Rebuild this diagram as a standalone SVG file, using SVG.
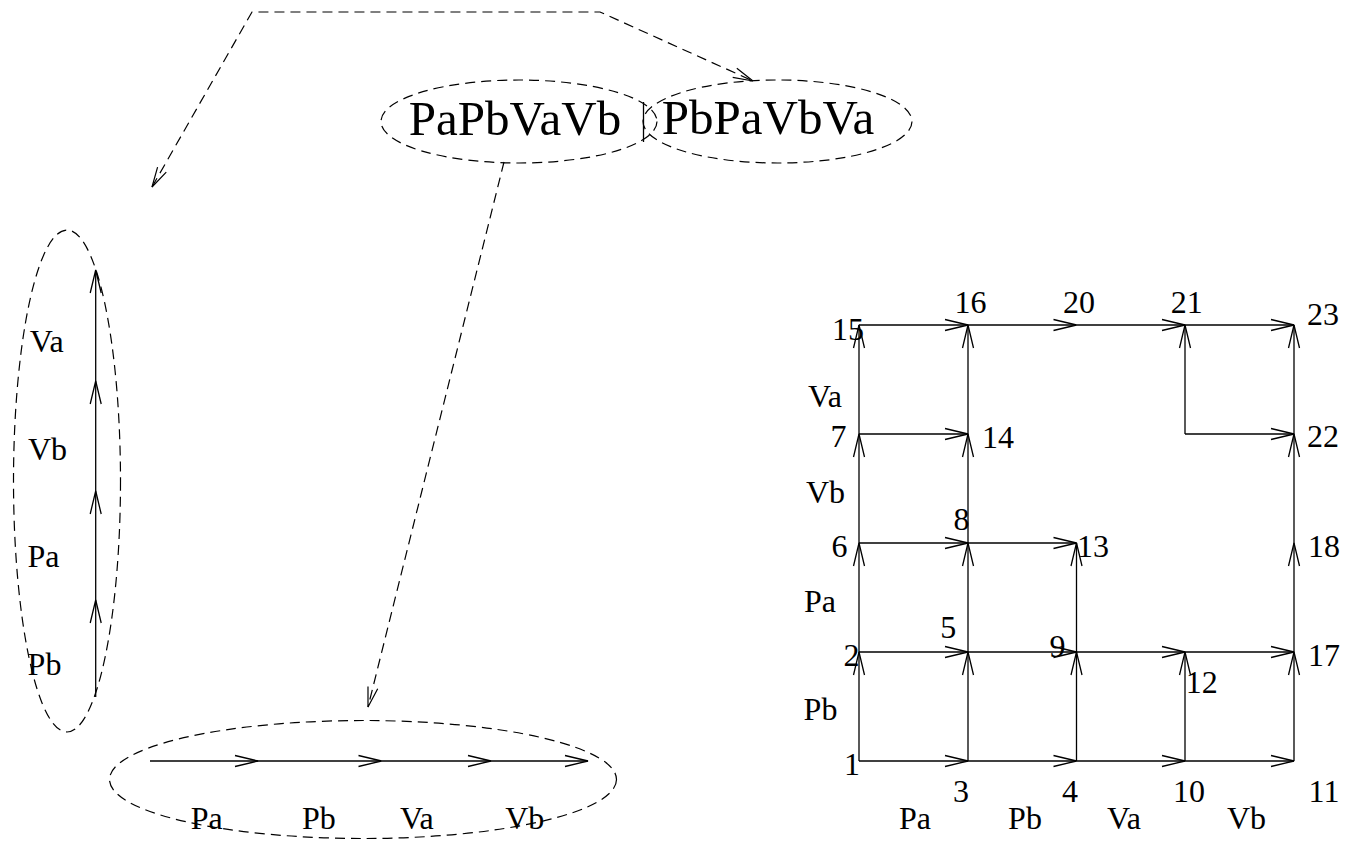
<svg xmlns="http://www.w3.org/2000/svg" width="1345" height="843" viewBox="0 0 1345 843">
<style>
.s{stroke:#000;stroke-width:1.3;fill:none}
.d{stroke:#000;stroke-width:1.2;fill:none;stroke-dasharray:10 6}
.t{font-family:"Liberation Serif","Times New Roman",serif;font-size:32px;fill:#000;text-anchor:middle}
.big{font-size:49px}
</style>
<defs>
<marker id="ah" markerUnits="userSpaceOnUse" markerWidth="30" markerHeight="16" viewBox="-26 -8 30 16" refX="0" refY="0" orient="auto" overflow="visible">
<path d="M-23,-5.5 L0,0 L-23,5.5" fill="none" stroke="#000" stroke-width="1.3"/>
</marker>
<marker id="ahd" markerUnits="userSpaceOnUse" markerWidth="30" markerHeight="16" viewBox="-26 -8 30 16" refX="0" refY="0" orient="auto-start-reverse" overflow="visible">
<path d="M-20,-5 L0,0 L-20,5" fill="none" stroke="#000" stroke-width="1.2" stroke-dasharray="none"/>
</marker>
</defs>
<rect width="1345" height="843" fill="#fff"/>

<!-- top sequence ellipses -->
<g id="seqA">
<ellipse class="d" cx="519" cy="121.5" rx="138" ry="41.5"/>
<text class="t big" x="515" y="135">PaPbVaVb</text>
</g>
<g id="seqB">
<ellipse class="d" cx="777.5" cy="121.5" rx="134.5" ry="41.5"/>
<text class="t big" x="768" y="134">PbPaVbVa</text>
</g>
<line class="s" x1="643.5" y1="102" x2="643.5" y2="142"/>

<!-- vertical chain -->
<g id="chainV">
<ellipse class="d" cx="67" cy="481" rx="53.5" ry="251"/>
<text class="t" x="46.7" y="352">Va</text>
<text class="t" x="47.5" y="460">Vb</text>
<text class="t" x="43.5" y="567">Pa</text>
<text class="t" x="44.5" y="675">Pb</text>
</g>

<!-- horizontal chain -->
<g id="chainH">
<ellipse class="d" cx="363" cy="779.5" rx="253.5" ry="59"/>
<text class="t" x="206.7" y="828.5">Pa</text>
<text class="t" x="318.8" y="828.5">Pb</text>
<text class="t" x="416.8" y="828.5">Va</text>
<text class="t" x="524.7" y="828.5">Vb</text>
</g>

<!-- grid nodes -->
<g id="n1"><text class="t" x="852" y="775">1</text></g>
<g id="n2"><text class="t" x="851.5" y="666">2</text></g>
<g id="n6"><text class="t" x="839.5" y="557">6</text></g>
<g id="n7"><text class="t" x="838.5" y="447">7</text></g>
<g id="n15"><text class="t" x="848" y="340">15</text></g>
<g id="n3"><text class="t" x="961" y="802">3</text></g>
<g id="n5"><text class="t" x="948.3" y="638">5</text></g>
<g id="n8"><text class="t" x="961.5" y="530">8</text></g>
<g id="n14"><text class="t" x="998" y="448">14</text></g>
<g id="n16"><text class="t" x="970.5" y="313">16</text></g>
<g id="n4"><text class="t" x="1070" y="802">4</text></g>
<g id="n9"><text class="t" x="1057.5" y="657">9</text></g>
<g id="n13"><text class="t" x="1093" y="557">13</text></g>
<g id="n20"><text class="t" x="1079" y="313">20</text></g>
<g id="n10"><text class="t" x="1189" y="802">10</text></g>
<g id="n12"><text class="t" x="1201.7" y="693">12</text></g>
<g id="n21"><text class="t" x="1186.7" y="313">21</text></g>
<g id="n11"><text class="t" x="1324" y="802">11</text></g>
<g id="n17"><text class="t" x="1324" y="666">17</text></g>
<g id="n18"><text class="t" x="1324" y="557">18</text></g>
<g id="n22"><text class="t" x="1323" y="447">22</text></g>
<g id="n23"><text class="t" x="1323" y="325">23</text></g>

<!-- grid axis labels -->
<g id="axes">
<text class="t" x="825" y="407">Va</text>
<text class="t" x="825.5" y="503">Vb</text>
<text class="t" x="820" y="612">Pa</text>
<text class="t" x="820.5" y="720">Pb</text>
<text class="t" x="915" y="829">Pa</text>
<text class="t" x="1025" y="829">Pb</text>
<text class="t" x="1124" y="829">Va</text>
<text class="t" x="1246.5" y="829">Vb</text>
</g>

<g id="connectors">
<!-- dashed references -->
<path class="d" d="M152,187 L252,12 L600,12 L753,81" marker-start="url(#ahd)" marker-end="url(#ahd)"/>
<path class="d" d="M504,162 L368,707" marker-end="url(#ahd)"/>

<!-- vertical chain arrows -->
<line class="s" x1="95.7" y1="697" x2="95.7" y2="600" marker-end="url(#ah)"/>
<line class="s" x1="95.7" y1="600" x2="95.7" y2="491" marker-end="url(#ah)"/>
<line class="s" x1="95.7" y1="491" x2="95.7" y2="381" marker-end="url(#ah)"/>
<line class="s" x1="95.7" y1="381" x2="95.7" y2="270" marker-end="url(#ah)"/>

<!-- horizontal chain arrows -->
<line class="s" x1="150" y1="761" x2="258" y2="761" marker-end="url(#ah)"/>
<line class="s" x1="258" y1="761" x2="381.5" y2="761" marker-end="url(#ah)"/>
<line class="s" x1="381.5" y1="761" x2="491" y2="761" marker-end="url(#ah)"/>
<line class="s" x1="491" y1="761" x2="588" y2="761" marker-end="url(#ah)"/>

<!-- grid horizontal edges -->
<line class="s" x1="859" y1="761" x2="968" y2="761" marker-end="url(#ah)"/>
<line class="s" x1="968" y1="761" x2="1076.5" y2="761" marker-end="url(#ah)"/>
<line class="s" x1="1076.5" y1="761" x2="1185" y2="761" marker-end="url(#ah)"/>
<line class="s" x1="1185" y1="761" x2="1294" y2="761" marker-end="url(#ah)"/>
<line class="s" x1="859" y1="652" x2="968" y2="652" marker-end="url(#ah)"/>
<line class="s" x1="968" y1="652" x2="1076.5" y2="652" marker-end="url(#ah)"/>
<line class="s" x1="1076.5" y1="652" x2="1185" y2="652" marker-end="url(#ah)"/>
<line class="s" x1="1185" y1="652" x2="1294" y2="652" marker-end="url(#ah)"/>
<line class="s" x1="859" y1="543" x2="968" y2="543" marker-end="url(#ah)"/>
<line class="s" x1="968" y1="543" x2="1076.5" y2="543" marker-end="url(#ah)"/>
<line class="s" x1="859" y1="434" x2="968" y2="434" marker-end="url(#ah)"/>
<line class="s" x1="1185" y1="434" x2="1294" y2="434" marker-end="url(#ah)"/>
<line class="s" x1="859" y1="325" x2="968" y2="325" marker-end="url(#ah)"/>
<line class="s" x1="968" y1="325" x2="1076.5" y2="325" marker-end="url(#ah)"/>
<line class="s" x1="1076.5" y1="325" x2="1185" y2="325" marker-end="url(#ah)"/>
<line class="s" x1="1185" y1="325" x2="1294" y2="325" marker-end="url(#ah)"/>

<!-- grid vertical edges -->
<line class="s" x1="859" y1="761" x2="859" y2="652" marker-end="url(#ah)"/>
<line class="s" x1="859" y1="652" x2="859" y2="543" marker-end="url(#ah)"/>
<line class="s" x1="859" y1="543" x2="859" y2="434" marker-end="url(#ah)"/>
<line class="s" x1="859" y1="434" x2="859" y2="325" marker-end="url(#ah)"/>
<line class="s" x1="968" y1="761" x2="968" y2="652" marker-end="url(#ah)"/>
<line class="s" x1="968" y1="652" x2="968" y2="543" marker-end="url(#ah)"/>
<line class="s" x1="968" y1="543" x2="968" y2="434" marker-end="url(#ah)"/>
<line class="s" x1="968" y1="434" x2="968" y2="325" marker-end="url(#ah)"/>
<line class="s" x1="1076.5" y1="761" x2="1076.5" y2="652" marker-end="url(#ah)"/>
<line class="s" x1="1076.5" y1="652" x2="1076.5" y2="543" marker-end="url(#ah)"/>
<line class="s" x1="1185" y1="761" x2="1185" y2="652" marker-end="url(#ah)"/>
<line class="s" x1="1185" y1="434" x2="1185" y2="325" marker-end="url(#ah)"/>
<line class="s" x1="1294" y1="761" x2="1294" y2="652" marker-end="url(#ah)"/>
<line class="s" x1="1294" y1="652" x2="1294" y2="543" marker-end="url(#ah)"/>
<line class="s" x1="1294" y1="543" x2="1294" y2="434" marker-end="url(#ah)"/>
<line class="s" x1="1294" y1="434" x2="1294" y2="325" marker-end="url(#ah)"/>
</g>
</svg>
